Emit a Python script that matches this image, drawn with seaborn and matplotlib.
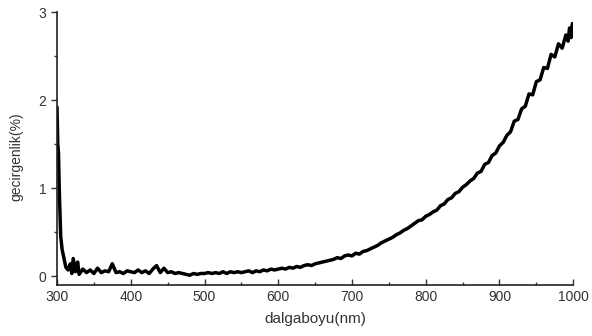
import numpy as np
import pandas as pd
import matplotlib
matplotlib.use("Agg")
import matplotlib.pyplot as plt
from matplotlib.ticker import MultipleLocator
import seaborn as sns

# wavelength (nm) and transmittance (%)
wavelength = [300, 301, 302, 303, 305, 307, 310, 312, 315, 318, 320, 322, 325, 328,
              330, 335, 340, 345, 350, 355, 360, 365, 370, 375, 380, 385, 390, 395,
              400, 405, 410, 415, 420, 425, 430, 435, 440, 445, 450, 455, 460, 465,
              470, 475, 480, 485, 490, 495, 500, 505, 510, 515, 520, 525, 530, 535,
              540, 545, 550, 555, 560, 565, 570, 575, 580, 585, 590, 595, 600, 605,
              610, 615, 620, 625, 630, 635, 640, 645, 650, 655, 660, 665, 670, 675,
              680, 685, 690, 695, 700, 705, 710, 715, 720, 725, 730, 735, 740, 745,
              750, 755, 760, 765, 770, 775, 780, 785, 790, 795, 800, 805, 810, 815,
              820, 825, 830, 835, 840, 845, 850, 855, 860, 865, 870, 875, 880, 885,
              890, 895, 900, 905, 910, 915, 920, 925, 930, 935, 940, 945, 950, 955,
              960, 965, 970, 975, 980, 985, 990, 993, 995, 997, 999, 1000]
transmittance = [1.92, 1.50, 1.40, 1.00, 0.45, 0.30, 0.18, 0.10, 0.07, 0.14, 0.03, 0.20,
                 0.05, 0.16, 0.02, 0.08, 0.04, 0.07, 0.03, 0.09, 0.04, 0.06, 0.05, 0.14,
                 0.04, 0.05, 0.03, 0.06, 0.05, 0.04, 0.07, 0.04, 0.06, 0.03, 0.08, 0.12,
                 0.04, 0.09, 0.04, 0.05, 0.03, 0.04, 0.03, 0.02, 0.01, 0.03, 0.02, 0.03,
                 0.03, 0.04, 0.03, 0.04, 0.03, 0.05, 0.03, 0.05, 0.04, 0.05, 0.04, 0.05,
                 0.06, 0.04, 0.06, 0.05, 0.07, 0.06, 0.08, 0.07, 0.08, 0.09, 0.08, 0.10,
                 0.09, 0.11, 0.10, 0.12, 0.13, 0.12, 0.14, 0.15, 0.16, 0.17, 0.18, 0.19,
                 0.21, 0.20, 0.23, 0.24, 0.23, 0.26, 0.25, 0.28, 0.29, 0.31, 0.33, 0.35,
                 0.38, 0.40, 0.42, 0.44, 0.47, 0.49, 0.52, 0.54, 0.57, 0.60, 0.63, 0.64,
                 0.68, 0.70, 0.73, 0.75, 0.80, 0.82, 0.87, 0.89, 0.94, 0.96, 1.01, 1.04,
                 1.08, 1.11, 1.17, 1.19, 1.27, 1.29, 1.37, 1.40, 1.48, 1.52, 1.60, 1.64,
                 1.76, 1.78, 1.90, 1.93, 2.07, 2.06, 2.21, 2.23, 2.37, 2.36, 2.52, 2.49,
                 2.64, 2.59, 2.74, 2.67, 2.82, 2.71, 2.87, 2.77]

df = pd.DataFrame({"wavelength": wavelength, "transmittance": transmittance})

sns.set_style("ticks")
plt.rcParams["font.family"] = ["Liberation Sans", "DejaVu Sans"]

fig = plt.figure(figsize=(5.92, 3.36), dpi=100)
ax = fig.add_axes([0.0963, 0.152, 0.872, 0.812])
sns.lineplot(data=df, x="wavelength", y="transmittance", color="black", linewidth=2.5, ax=ax)

ax.set_xlim(300, 1000)
ax.set_ylim(-0.1, 3)
ax.xaxis.set_major_locator(MultipleLocator(100))
ax.xaxis.set_minor_locator(MultipleLocator(50))
ax.yaxis.set_major_locator(MultipleLocator(1))
ax.yaxis.set_minor_locator(MultipleLocator(0.5))
ax.tick_params(axis="x", which="both", direction="in", colors="#333333", labelsize=10)
ax.tick_params(axis="y", which="both", direction="out", colors="#333333", labelsize=10)
ax.tick_params(which="major", length=4, width=1)
ax.tick_params(which="minor", length=2.5, width=1)
sns.despine(ax=ax)
for s in ["left", "bottom"]:
    ax.spines[s].set_color("#222222")
    ax.spines[s].set_linewidth(1.2)

ax.set_xlabel("dalgaboyu(nm)", fontsize=11, color="#333333", labelpad=6)
ax.set_ylabel("gecirgenlik(%)", fontsize=10, color="#333333", labelpad=8)
ax.yaxis.set_label_coords(-0.065, 0.47)

fig.savefig("out.png", dpi=100)
